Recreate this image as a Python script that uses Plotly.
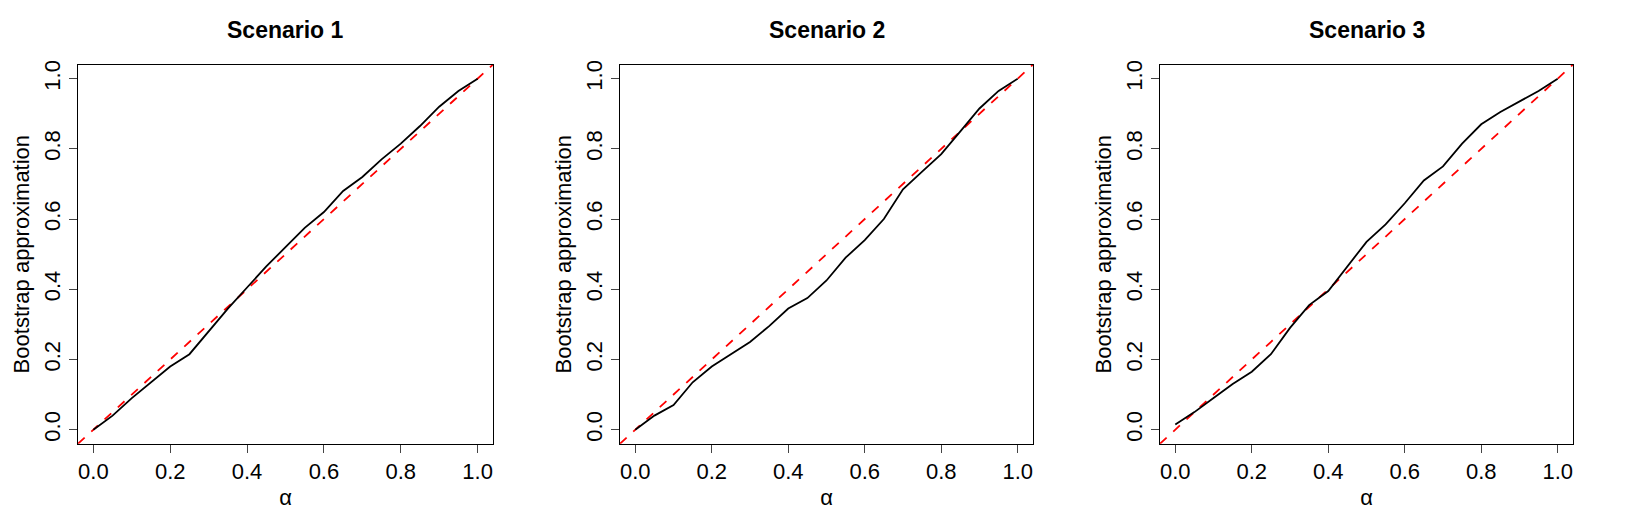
import plotly.graph_objects as go

alpha = [i*0.05 for i in range(21)]
s1 = [0.0,0.04,0.09,0.135,0.18,0.215,0.28,0.345,0.405,0.465,0.52,0.575,0.62,0.68,0.72,0.77,0.815,0.865,0.92,0.965,1.0]
s2 = [0.0,0.04,0.07,0.135,0.18,0.215,0.25,0.295,0.345,0.375,0.425,0.49,0.54,0.6,0.685,0.735,0.785,0.85,0.915,0.965,1.0]
s3 = [0.015,0.05,0.09,0.13,0.165,0.215,0.29,0.355,0.395,0.465,0.535,0.585,0.645,0.71,0.75,0.815,0.87,0.905,0.935,0.965,1.0]
titles = ["Scenario 1", "Scenario 2", "Scenario 3"]
ticks = [0.0,0.2,0.4,0.6,0.8,1.0]
ticktext = ["0.0","0.2","0.4","0.6","0.8","1.0"]
diag = [-0.04, 1.04]

fig = go.Figure()
doms = [(70,485),(612,1025),(1152,1565)]
W, H = 1643, 530
font = dict(family="Liberation Sans, Arial", size=22, color="black")
for i,(s,t) in enumerate(zip([s1,s2,s3],titles)):
    n = "" if i == 0 else str(i+1)
    fig.add_trace(go.Scatter(x=diag, y=diag, mode="lines", line=dict(color="red", dash="dash", width=1.8),
                             xaxis="x"+n, yaxis="y"+n, showlegend=False))
    fig.add_trace(go.Scatter(x=alpha, y=s, mode="lines", line=dict(color="black", width=1.8),
                             xaxis="x"+n, yaxis="y"+n, showlegend=False))
    d = [doms[i][0]/W, doms[i][1]/W]
    common = dict(range=[-0.04,1.04], tickvals=ticks, ticktext=ticktext, ticks="outside", ticklen=8,
                  showline=True, mirror=True, linecolor="black", linewidth=1, showgrid=False,
                  zeroline=False, tickfont=font)
    fig.layout["xaxis"+n] = dict(domain=d, anchor="y"+n, title=dict(text="α", font=font, standoff=6), **common)
    fig.layout["yaxis"+n] = dict(domain=[1-435/H, 1-53/H], anchor="x"+n, tickangle=-90,
                                 title=dict(text="Bootstrap approximation", font=font, standoff=4), **common)
    fig.add_annotation(text="<b>"+t+"</b>", x=(d[0]+d[1])/2, y=1-18/H, xref="paper", yref="paper",
                       yanchor="middle", xanchor="center", showarrow=False,
                       font=dict(family="Liberation Sans, Arial", size=23, color="black"))

fig.update_layout(width=W, height=H, margin=dict(l=0,r=0,t=0,b=0), plot_bgcolor="white",
                  paper_bgcolor="white")
fig.write_html("out.html")
